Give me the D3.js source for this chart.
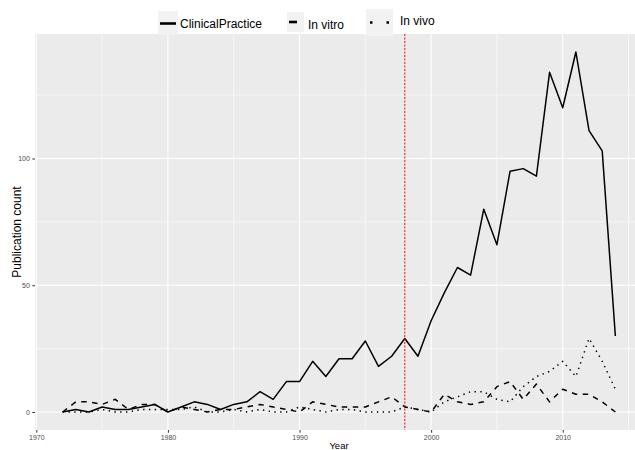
<!DOCTYPE html>
<html>
<head>
<meta charset="utf-8">
<script src="https://cdn.jsdelivr.net/npm/d3@7"></script>
<style>
  html, body { margin: 0; padding: 0; background: #ffffff; }
  svg { display: block; font-family: "Liberation Sans", Arial, sans-serif; }
</style>
</head>
<body>
<svg id="chart" width="635" height="450"></svg>
<script>
// ---- data ----
const years = d3.range(1972, 2015);
const clinicalPractice = [0,1,0,2,1,1,2,3,0,2,4,3,1,3,4,8,5,12,12,20,14,21,21,28,18,22,29,22,36,47,57,54,80,66,95,96,93,134,120,142,111,103,30];
const inVitro =          [0,4,4,3,5,1,3,3,0,2,1,0,1,1,2,3,2,1,0,4,3,2,2,2,4,6,2,1,0,7,4,3,4,10,12,5,11,4,9,7,7,4,0];
const inVivo =           [0,0,0,1,0,0,1,1,1,1,2,0,0,1,0,1,0,0,2,1,0,1,1,0,0,0,2,1,0,4,6,8,8,5,4,10,14,16,20,14,29,20,9];
const seriesNames = ["ClinicalPractice", "In vitro", "In vivo"];
const xTicks = [1970, 1980, 1990, 2000, 2010];
const xMinor = [1975, 1985, 1995, 2005, 2015];
const yTicks = [0, 50, 100];
const yMinor = [25, 75, 125];
const markerYear = 1998;
const xTitle = "Year";
const yTitle = "Publication count";

// ---- layout ----
const svg = d3.select("#chart");
const panel = { left: 35, right: 643, top: 34, bottom: 430 };

const xMin = d3.min(years), xMax = d3.max(years);
const xPad = (xMax - xMin) * 0.05;
const x = d3.scaleLinear().domain([xMin - xPad, xMax + xPad]).range([panel.left, panel.right]);
const allVals = clinicalPractice.concat(inVitro, inVivo);
const yLo = 0, yHi = d3.max(allVals);
const yPad = (yHi - yLo) * 0.05;
const y = d3.scaleLinear().domain([yLo - yPad, yHi + yPad]).range([panel.bottom, panel.top]);

// panel background
svg.append("rect")
  .attr("x", panel.left).attr("y", panel.top)
  .attr("width", panel.right - panel.left).attr("height", panel.bottom - panel.top)
  .attr("fill", "#ebebeb");

const grid = svg.append("g");
grid.selectAll(".ymin").data(yMinor).enter().append("line")
  .attr("x1", panel.left).attr("x2", panel.right)
  .attr("y1", d => y(d)).attr("y2", d => y(d))
  .attr("stroke", "#ffffff").attr("stroke-width", 0.55);
grid.selectAll(".xmin").data(xMinor).enter().append("line")
  .attr("y1", panel.top).attr("y2", panel.bottom)
  .attr("x1", d => x(d)).attr("x2", d => x(d))
  .attr("stroke", "#ffffff").attr("stroke-width", 0.55);
grid.selectAll(".ymaj").data(yTicks).enter().append("line")
  .attr("x1", panel.left).attr("x2", panel.right)
  .attr("y1", d => y(d)).attr("y2", d => y(d))
  .attr("stroke", "#ffffff").attr("stroke-width", 1.1);
grid.selectAll(".xmaj").data(xTicks).enter().append("line")
  .attr("y1", panel.top).attr("y2", panel.bottom)
  .attr("x1", d => x(d)).attr("x2", d => x(d))
  .attr("stroke", "#ffffff").attr("stroke-width", 1.1);

// series
const styles = [
  { vals: clinicalPractice, dash: null },
  { vals: inVitro, dash: "5.5,5.5" },
  { vals: inVivo, dash: "1.4,4.4" }
];
const line = d3.line().x(d => x(d[0])).y(d => y(d[1]));
styles.forEach(s => {
  svg.append("path")
    .datum(years.map((yr, i) => [yr, s.vals[i]]))
    .attr("d", line)
    .attr("fill", "none")
    .attr("stroke", "#000000")
    .attr("stroke-width", 1.5)
    .attr("stroke-linejoin", "round")
    .attr("stroke-dasharray", s.dash);
});

// marker line
svg.append("line")
  .attr("x1", x(markerYear)).attr("x2", x(markerYear))
  .attr("y1", panel.top).attr("y2", panel.bottom)
  .attr("stroke", "#ff0000").attr("stroke-width", 1)
  .attr("stroke-dasharray", "2,1.5");

// axes
const xAxis = svg.append("g")
  .attr("transform", `translate(0,${panel.bottom})`)
  .call(d3.axisBottom(x).tickValues(xTicks).tickFormat(d3.format("d")).tickSizeInner(2.7).tickSizeOuter(0).tickPadding(2.5));
const yAxis = svg.append("g")
  .attr("transform", `translate(${panel.left},0)`)
  .call(d3.axisLeft(y).tickValues(yTicks).tickSizeInner(2.7).tickSizeOuter(0).tickPadding(2.5));
[xAxis, yAxis].forEach(a => {
  a.select(".domain").remove();
  a.selectAll(".tick line").attr("stroke", "#333333").attr("stroke-width", 1);
  a.selectAll(".tick text").attr("fill", "#4d4d4d").attr("font-size", 7)
    .attr("font-family", "'Liberation Sans', Arial, sans-serif");
});

svg.append("text")
  .attr("x", (panel.left + 643) / 2).attr("y", 449)
  .attr("text-anchor", "middle").attr("font-size", 9.5).attr("fill", "#000")
  .text(xTitle);
svg.append("text")
  .attr("transform", `translate(21,${(panel.top + panel.bottom) / 2}) rotate(-90)`)
  .attr("text-anchor", "middle").attr("font-size", 12).attr("fill", "#000")
  .text(yTitle);

// legend
const legendItems = [
  { name: seriesNames[0], kx: 158, kw: 20, ky: 11, kh: 24, tx: 180, ty: 27.5, dash: null },
  { name: seriesNames[1], kx: 287, kw: 17, ky: 12, kh: 20, tx: 308, ty: 29, dash: "8,20" },
  { name: seriesNames[2], kx: 366, kw: 27, ky: 9, kh: 27, tx: 400, ty: 25, dash: "2.5,14" }
];
const lg = svg.append("g");
legendItems.forEach((it, i) => {
  lg.append("rect").attr("x", it.kx).attr("y", it.ky).attr("width", it.kw).attr("height", it.kh)
    .attr("fill", "#f2f2f2");
  const ly = it.ky + it.kh / 2 + (i === 0 ? 0.5 : 0);
  let x1 = it.kx + 2, x2 = it.kx + it.kw - 2;
  if (i === 1) { x1 = it.kx + 2; x2 = it.kx + 10; }
  if (i === 2) { x1 = it.kx + 4; x2 = it.kx + it.kw; }
  lg.append("line").attr("x1", x1).attr("x2", x2).attr("y1", ly).attr("y2", ly)
    .attr("stroke", "#000").attr("stroke-width", 2.6)
    .attr("stroke-dasharray", it.dash);
  lg.append("text").attr("x", it.tx).attr("y", it.ty).attr("font-size", 12).attr("fill", "#000")
    .text(it.name);
});
</script>
</body>
</html>
